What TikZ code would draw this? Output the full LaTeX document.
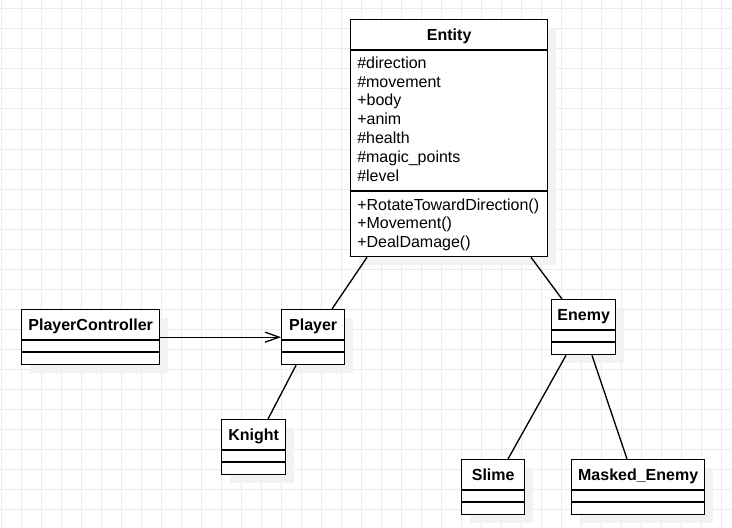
\documentclass[tikz,border=0pt]{standalone}
\usepackage{fontspec}
\setmainfont{Liberation Sans}
\usepackage{tikz}
\usetikzlibrary{calc, shadows, arrows.meta}

\tikzset{
  gridline/.style={line width=0.75pt, color=black!8},
  classbox/.style 2 args={draw, fill=white, line width=1pt, inner sep=0pt, anchor=north west,
    minimum width=#1*0.75pt, minimum height=#2*0.75pt,
    drop shadow={shadow xshift=6pt, shadow yshift=-6pt, fill=black!5, opacity=1}},
  classname/.style={font=\fontsize{12}{14}\selectfont\bfseries, anchor=base, inner sep=0pt},
  member/.style={anchor=base west, inner sep=0pt},
  link/.style={line width=1pt},
}

\begin{document}
\begin{tikzpicture}[x=0.75pt, y=-0.75pt, font=\fontsize{12}{14}\selectfont]
    \useasboundingbox (0,0) rectangle (732,528);

    % background grid
    \foreach \x in {1,21,...,721} \draw[gridline] (\x,0) -- (\x,528);
    \foreach \y in {9,29,...,509} \draw[gridline] (0,\y) -- (732,\y);

    % classes
    \node[classbox={197}{237}] (Entity) at (350,19) {};
    \node[classbox={138}{55}] (PlayerController) at (21,309) {};
    \node[classbox={63}{55}] (Player) at (281,309) {};
    \node[classbox={64}{55}] (Knight) at (221,419) {};
    \node[classbox={64}{55}] (Enemy) at (551,299) {};
    \node[classbox={63}{55}] (Slime) at (461,459) {};
    \node[classbox={133}{55}] (Masked) at (571,459) {};

    \draw[link] ($(Entity.north west)+(0,31)$) -- ($(Entity.north east)+(0,31)$);
    \draw[link] ($(Entity.north west)+(0,172)$) -- ($(Entity.north east)+(0,172)$);

    \foreach \n in {PlayerController, Player, Knight, Enemy, Slime, Masked} {
      \draw[link] ($(\n.north west)+(0,31)$) -- ($(\n.north east)+(0,31)$);
      \draw[link] ($(\n.north west)+(0,43)$) -- ($(\n.north east)+(0,43)$);
    }

    \node[classname] (EntityName) at ($(Entity.north)+(0,22)$) {Entity};
    \node[classname] (PlayerControllerName) at ($(PlayerController.north)+(0,21)$) {PlayerController};
    \node[classname] (PlayerName) at ($(Player.north)+(0,21)$) {Player};
    \node[classname] (KnightName) at ($(Knight.north)+(0,21)$) {Knight};
    \node[classname] (EnemyName) at ($(Enemy.north)+(0,21)$) {Enemy};
    \node[classname] (SlimeName) at ($(Slime.north)+(0,21)$) {Slime};
    \node[classname] (MaskedName) at ($(Masked.north)+(0,21)$) {Masked\_Enemy};

    % attributes and methods
    \foreach \t [count=\i] in {\#direction, \#movement, +body, +anim, \#health, \#magic\_points, \#level}
      \node[member] (attr\i) at (357, {68.3+18.8*(\i-1)}) {\t};
    \foreach \t [count=\i] in {+RotateTowardDirection(), +Movement(), +DealDamage()}
      \node[member] (meth\i) at (357, {210+18.5*(\i-1)}) {\t};

    % links
    \draw[link] ($(Entity.south west)+(17,0)$) -- ($(Player.north west)+(51,0)$);
    \draw[link] ($(Entity.south west)+(181,0)$) -- ($(Enemy.north west)+(11,0)$);
    \draw[link, -{Straight Barb[length=10.5pt, width=7.5pt]}] (PlayerController.east) -- (Player.west);
    \draw[link] ($(Player.south west)+(15,0)$) -- ($(Knight.north west)+(47,0)$);
    \draw[link] ($(Enemy.south west)+(15,0)$) -- ($(Slime.north west)+(47,0)$);
    \draw[link] ($(Enemy.south west)+(41,0)$) -- ($(Masked.north west)+(56,0)$);

  \end{tikzpicture}
\end{document}
